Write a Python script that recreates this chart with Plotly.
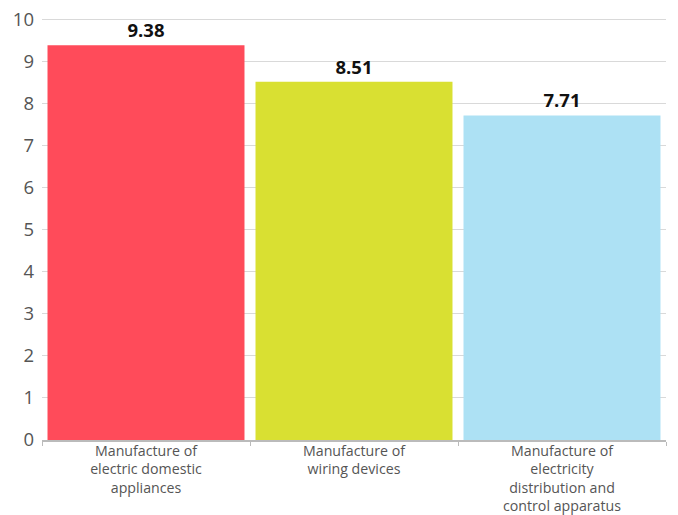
import plotly.graph_objects as go

categories = [
    "Manufacture of<br>electric domestic<br>appliances",
    "Manufacture of<br>wiring devices",
    "Manufacture of<br>electricity<br>distribution and<br>control apparatus",
]
values = [9.38, 8.51, 7.71]
colors = ["#FF4B5A", "#D9E032", "#ADE1F4"]
y_ticks = [0, 1, 2, 3, 4, 5, 6, 7, 8, 9, 10]

fig = go.Figure(
    go.Bar(
        x=categories,
        y=values,
        marker=dict(color=colors, line=dict(width=0)),
        text=[f"{v:.2f}" for v in values],
        textposition="outside",
        textfont=dict(family="Open Sans", size=18.5, color="#111111", weight="bold"),
        cliponaxis=False,
        hoverinfo="skip",
    )
)

# page has an 8px body margin, so the figure is sized/offset to compensate
fig.update_layout(
    width=670,
    height=507,
    margin=dict(l=34, r=12, t=9, b=75),
    paper_bgcolor="white",
    plot_bgcolor="white",
    bargap=0.053,
    showlegend=False,
    font=dict(family="Open Sans", color="#555555"),
)

fig.update_xaxes(
    type="category",
    automargin=False,
    showline=True,
    linecolor="#BBBBBB",
    linewidth=1.5,
    ticks="outside",
    tickson="boundaries",
    ticklen=4,
    tickcolor="#BBBBBB",
    ticklabelstandoff=-3,
    ticklabeloverflow="allow",
    tickfont=dict(size=14.2, color="#555555"),
    showgrid=False,
)

fig.update_yaxes(
    automargin=False,
    range=[0, 10.05],
    tickvals=y_ticks,
    showgrid=True,
    gridcolor="#D9D9D9",
    gridwidth=1,
    zeroline=False,
    showline=False,
    ticks="",
    ticklabelstandoff=7,
    ticklabeloverflow="allow",
    tickfont=dict(size=18.5, color="#555555"),
)

fig.write_html("out.html")
